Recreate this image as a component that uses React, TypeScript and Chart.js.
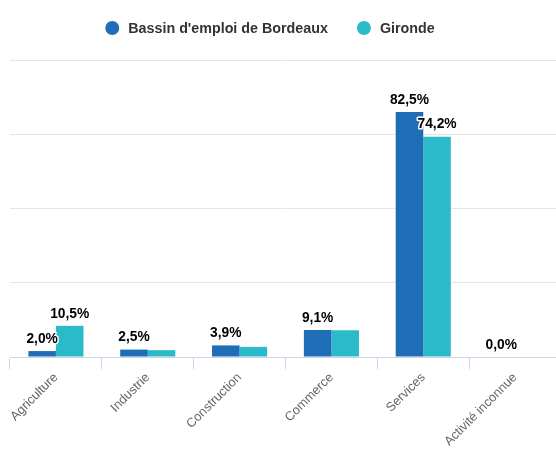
import React, { useEffect, useRef } from "react";
import { Chart, registerables } from "chart.js";

Chart.register(...registerables);

const categories = ["Agriculture", "Industrie", "Construction", "Commerce", "Services", "Activité inconnue"];
const bassinValues = [2.0, 2.5, 3.9, 9.1, 82.5, 0.0];
const girondeValues = [10.5, 2.3, 3.4, 9.0, 74.2, 0.0];
const seriesNames = ["Bassin d'emploi de Bordeaux", "Gironde"];
const seriesColors = ["#1f6db6", "#2bbac8"];
const yTicks = [0, 25, 50, 75, 100];

const FONT = "'Liberation Sans', Arial, sans-serif";
const fmt = (v: number) => v.toFixed(1).replace(".", ",") + "%";

const labelPlugin = {
  id: "barLabels",
  afterDatasetsDraw(chart: any) {
    const ctx = chart.ctx;
    ctx.save();
    ctx.font = `bold 13.8px ${FONT}`;
    ctx.textAlign = "center";
    ctx.textBaseline = "middle";
    ctx.lineJoin = "round";
    const boxes: { x1: number; y1: number; x2: number; y2: number }[] = [];
    const items: { text: string; x: number; y: number }[] = [];
    chart.data.datasets.forEach((ds: any, di: number) => {
      const meta = chart.getDatasetMeta(di);
      meta.data.forEach((bar: any, i: number) => {
        const text = fmt(ds.data[i]);
        const x = bar.x;
        const y = bar.y - 12;
        const w = ctx.measureText(text).width + 6;
        const h = 18;
        const box = { x1: x - w / 2, y1: y - h / 2, x2: x + w / 2, y2: y + h / 2 };
        const overlap = boxes.some(
          (b) => !(box.x2 <= b.x1 || box.x1 >= b.x2 || box.y2 <= b.y1 || box.y1 >= b.y2)
        );
        if (!overlap) {
          boxes.push(box);
          items.push({ text, x, y });
        }
      });
    });
    items.forEach((it) => {
      ctx.lineWidth = 3;
      ctx.strokeStyle = "#ffffff";
      ctx.strokeText(it.text, it.x, it.y);
      ctx.fillStyle = "#000000";
      ctx.fillText(it.text, it.x, it.y);
    });
    ctx.restore();
  },
};

const legendPlugin = {
  id: "customLegend",
  afterDraw(chart: any) {
    const ctx = chart.ctx;
    ctx.save();
    ctx.font = `bold 14.3px ${FONT}`;
    ctx.textBaseline = "middle";
    ctx.textAlign = "left";
    const r = 7;
    const gapSym = 9;
    const gapItem = 29;
    const cy = 28;
    const center = 270;
    const ds = chart.data.datasets;
    const widths = ds.map((d: any) => 2 * r + gapSym + ctx.measureText(d.label).width);
    const total = widths.reduce((a: number, b: number) => a + b, 0) + gapItem * (ds.length - 1);
    let x = center - total / 2;
    ds.forEach((d: any, i: number) => {
      ctx.fillStyle = d.backgroundColor;
      ctx.beginPath();
      ctx.arc(x + r, cy, r, 0, Math.PI * 2);
      ctx.fill();
      ctx.fillStyle = "#333333";
      ctx.fillText(d.label, x + 2 * r + gapSym, cy + 1);
      x += widths[i] + gapItem;
    });
    ctx.restore();
  },
};

export default function App() {
  const ref = useRef<HTMLCanvasElement | null>(null);
  useEffect(() => {
    if (!ref.current) return;
    const chart = new Chart(ref.current, {
      type: "bar",
      data: {
        labels: categories,
        datasets: [
          {
            label: seriesNames[0],
            data: bassinValues,
            backgroundColor: seriesColors[0],
            borderWidth: 0,
          },
          {
            label: seriesNames[1],
            data: girondeValues,
            backgroundColor: seriesColors[1],
            borderWidth: 0,
          },
        ],
      },
      options: {
        animation: false,
        responsive: true,
        maintainAspectRatio: false,
        layout: { padding: { left: 10, right: 0, top: 60, bottom: 0 } },
        datasets: {
          bar: { categoryPercentage: 0.6, barPercentage: 1.0 },
        },
        plugins: {
          legend: { display: false },
          tooltip: { enabled: false },
        },
        scales: {
          x: {
            border: { display: true, color: "#ccd6eb", width: 1 },
            grid: {
              display: true,
              offset: true,
              drawOnChartArea: false,
              drawTicks: true,
              tickLength: 12,
              color: "#ccd6eb",
            },
            ticks: {
              maxRotation: 45,
              minRotation: 45,
              padding: 1,
              color: "#666666",
              font: { family: FONT, size: 12.8 },
            },
            afterFit: (scale: any) => {
              scale.height = 97;
            },
          },
          y: {
            min: 0,
            max: 100,
            afterBuildTicks: (scale: any) => {
              scale.ticks = yTicks.map((v) => ({ value: v }));
            },
            border: { display: false },
            grid: { color: "#e6e6e6", drawTicks: false },
            ticks: { display: false },
            afterFit: (scale: any) => {
              scale.width = 0;
            },
          },
        },
      },
      plugins: [labelPlugin, legendPlugin],
    });
    return () => chart.destroy();
  }, []);
  return (
    <div style={{ position: "absolute", left: 0, top: 0, width: 556, height: 454, overflow: "hidden", background: "#fff" }}>
      <div style={{ position: "relative", width: 561, height: 454 }}>
        <canvas ref={ref} />
      </div>
    </div>
  );
}
